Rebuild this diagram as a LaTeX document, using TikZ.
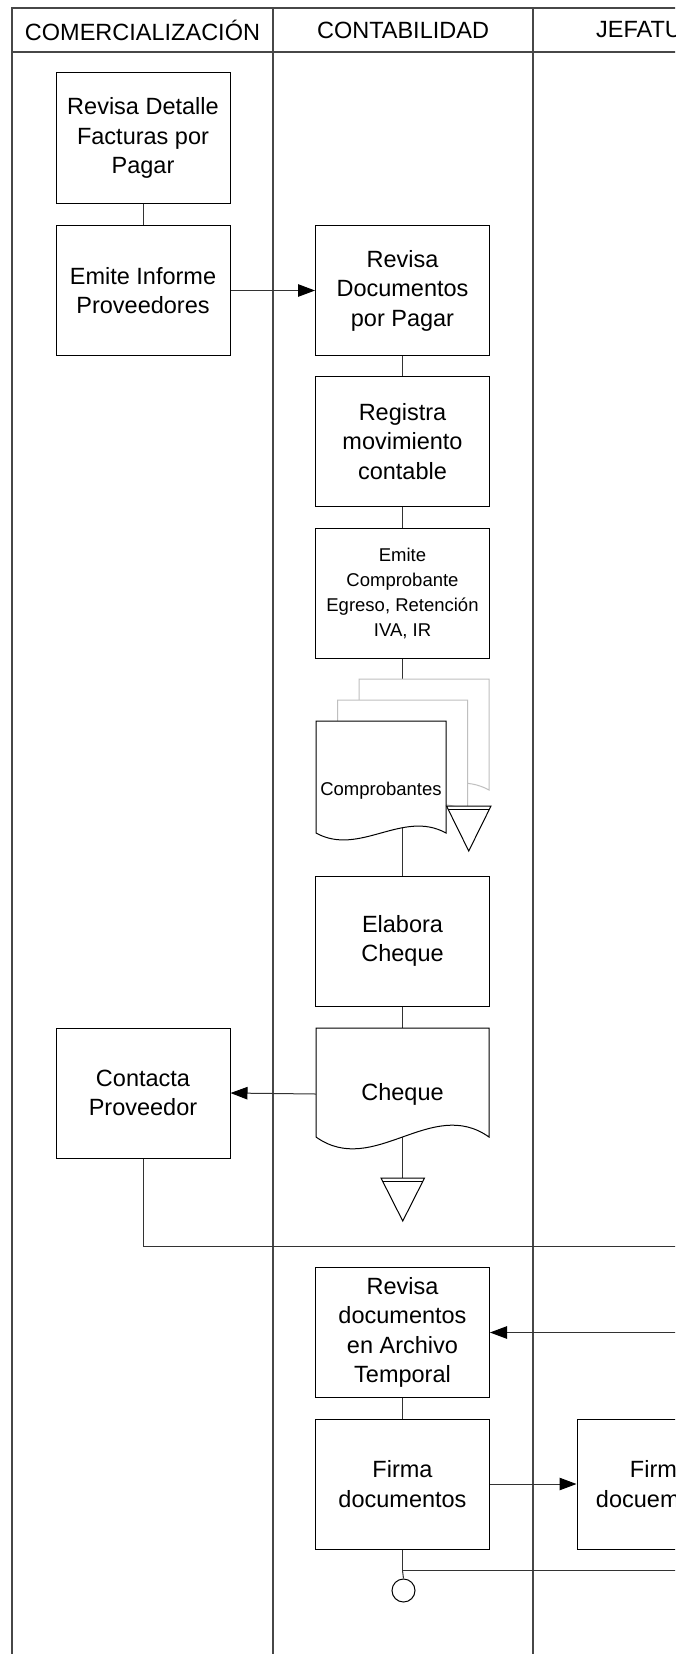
\documentclass[tikz,border=0pt]{standalone}
\usepackage{fontspec}
\setmainfont{Liberation Sans}
\usetikzlibrary{arrows.meta}
\newcommand{\docshape}[6]{% style, L, R, T, B, d
  \path[#1] (#2,#5) -- (#2,#4) -- (#3,#4) -- (#3,#5)
    .. controls ({#3-(#3-#2)/3},{#5-#6}) and ({#2+(#3-#2)/3},{#5+#6}) .. (#2,#5) -- cycle;}
\newcommand{\mergetri}[4]{% left x, right x, top y, height
  \path[tri] (#1,#3) -- (#2,#3) -- ({(#1+#2)/2},{#3+#4}) -- cycle;
  \draw[line width=0.9pt] ({#1+1.6},{#3+3.2}) -- ({#2-1.6},{#3+3.2});}
\begin{document}
\begin{tikzpicture}[x=1pt,y=-1pt,
  lane/.style={draw=black!72, line width=1.4pt},
  boxnode/.style={draw=black, line width=1pt, fill=white, minimum width=174pt,
    minimum height=130pt, align=center, inner sep=0pt,
    font=\fontsize{23.5}{29.5}\selectfont},
  smalltext/.style={font=\fontsize{18.5}{25}\selectfont},
  hdr/.style={font=\fontsize{23.5}{28}\selectfont, inner sep=0pt},
  conn/.style={draw=black!80, line width=1pt},
  arr/.style={conn, -{Triangle[length=17pt,width=12.5pt,color=black]}},
  docfront/.style={draw=black, line width=1pt, fill=white},
  docback/.style={draw=black!25, line width=1pt, fill=white},
  tri/.style={draw=black, line width=1pt, fill=white, line join=miter},
  txt/.style={align=center, inner sep=0pt, font=\fontsize{23.5}{29.5}\selectfont}]
\useasboundingbox (0,0) rectangle (675,1654);
\begin{scope}
\clip (0,0) rectangle (675,1654);
\fill[white] (0,0) rectangle (675,1654);
% lanes
\draw[lane] (12,1670) -- (12,8) -- (700,8);
\draw[lane] (12,52) -- (700,52);
\draw[lane] (273,8) -- (273,1670);
\draw[lane] (533,8) -- (533,1670);
\node[hdr] (h1) at (142.5,30) {COMERCIALIZACIÓN};
\node[hdr] (h2) at (403,30) {CONTABILIDAD};
\node[hdr, anchor=west] (h3) at (596,30) {JEFATURA};

% free ends on the right
\coordinate (e1) at (700,1246);
\coordinate (e2) at (700,1332.5);
\coordinate (e3) at (700,1570.5);

% column 1
\node[boxnode] (b1) at (143,138) {Revisa Detalle\\Facturas por\\Pagar};
\node[boxnode] (b2) at (143,290.5) {Emite Informe\\Proveedores};
\node[boxnode] (p1) at (143,1093) {Contacta\\Proveedor};

% column 2
\node[boxnode] (c1) at (402.5,290.5) {Revisa\\Documentos\\por Pagar};
\node[boxnode] (c2) at (402.5,441.5) {Registra\\movimiento\\contable};
\node[boxnode, smalltext] (c3) at (402.5,593) {Emite\\Comprobante\\Egreso, Retención\\IVA, IR};
\node[boxnode] (c5) at (402.5,941) {Elabora\\Cheque};
\node[boxnode] (c6) at (402.5,1332.5) {Revisa\\documentos\\en Archivo\\Temporal};
\node[boxnode] (c7) at (402.5,1484) {Firma\\documentos};

% column 3
\node[boxnode] (j1) at (664,1484) {};
\node[txt] (j1t) at (660,1484) {Firma\\docuemntos};

% connectors (drawn under the document shapes)
\coordinate (stacktop) at (402.5,679);
\coordinate (stackbot) at (402.5,826);
\coordinate (chqtop) at (402.5,1028);
\coordinate (chqbot) at (402.5,1137);
\coordinate (t2) at (402.5,1178);
\coordinate (jn) at (402.5,1570.5);

\draw[conn] (b1) -- (b2);
\draw[arr] (b2.east) -- (c1.west);
\draw[conn] (c1) -- (c2);
\draw[conn] (c2) -- (c3);
\draw[conn] (c3.south) -- (stacktop);
\draw[conn] (stackbot) -- (c5.north);
\draw[conn] (c5.south) -- (chqtop);
\draw[conn] (chqbot) -- (t2);
\draw[conn] (p1.south) |- (e1);
\draw[arr] (e2) -- (c6.east);
\draw[conn] (c6) -- (c7);
\draw[arr] (c7.east) -- (j1.west);
\draw[conn] (c7.south) -- (jn) -- (e3);

% document stack "Comprobantes"
\docshape{docback}{359}{489}{679}{790}{24}
\docshape{docback}{337.5}{467.5}{700}{811.5}{24}
\docshape{docfront}{316}{446}{721}{833}{24}
\node[txt, font=\fontsize{18.5}{22}\selectfont] (comp) at (381,791) {Comprobantes};
\mergetri{446.5}{491}{806}{45}

% document "Cheque"
\docshape{docfront}{316}{489}{1028}{1137}{41}
\node[txt, minimum width=173pt] (chq) at (402.5,1094) {Cheque};
\draw[arr] (chq.west) -- (p1.east);
\mergetri{381}{424.5}{1178}{43}

% end circle
\node[circle, draw=black, line width=1pt, fill=white, minimum size=23pt, inner sep=0pt] (endc) at (403.5,1590.5) {};
\draw[conn] (jn) -- (endc.north);
\end{scope}
\end{tikzpicture}
\end{document}
